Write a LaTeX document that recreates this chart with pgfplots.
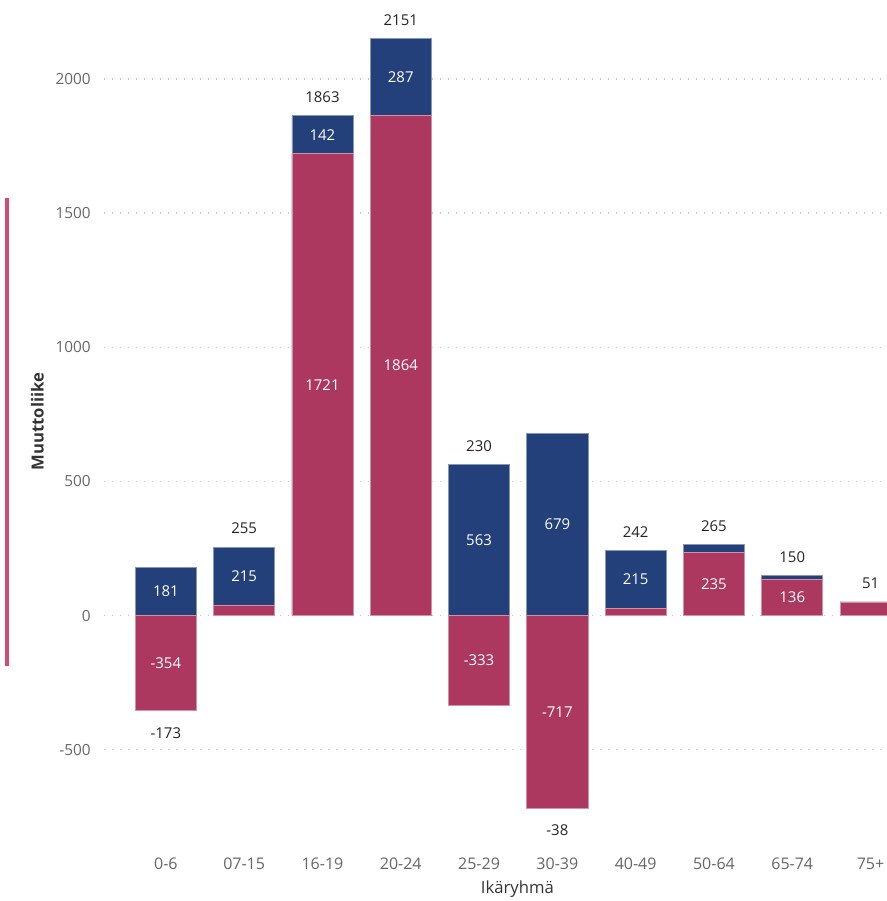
\documentclass[border=0pt]{standalone}
\usepackage{pgfplots}
\pgfplotsset{compat=1.18}
\usepackage{pgfplotstable}
\usepackage{fontspec}
\setmainfont{Open Sans}
\definecolor{cblue}{RGB}{35,64,122}
\definecolor{cred}{RGB}{172,55,95}
\definecolor{cline}{RGB}{209,75,115}
\definecolor{ctick}{RGB}{102,102,102}
\definecolor{ctitle}{RGB}{51,51,51}
\definecolor{clab}{RGB}{37,36,35}

% x red blue top (top = upper end of the blue segment)
\pgfplotstableread{
x red blue top
0 -354 181 181
1 40 215 255
2 1721 142 1863
3 1864 287 2151
4 -333 563 563
5 -717 679 679
6 27 215 242
7 235 30 265
8 136 14 150
9 51 0 51
}\bars

\pgfplotstableread{
x y lab
0 90.5 181
1 147.5 215
2 1792 142
3 2007.5 287
4 281.5 563
5 339.5 679
6 134.5 215
}\bluelab

\pgfplotstableread{
x y lab
0 -177 -354
2 860.5 1721
3 932 1864
4 -166.5 -333
5 -358.5 -717
7 117.5 235
8 68 136
}\redlab

\pgfplotstableread{
x y lab
1 255 255
2 1863 1863
3 2151 2151
4 563 230
6 242 242
7 265 265
8 150 150
9 51 51
}\toplab

\pgfplotstableread{
x y lab
0 -354 -173
5 -717 -38
}\botlab

\begin{document}
\begin{tikzpicture}
\begin{axis}[
  scale only axis, width=587.25pt, height=632.25pt,
  xmin=-0.79, xmax=9.21, ymin=-847, ymax=2294,
  axis line style={draw=none},
  major tick length=0pt,
  tick style={draw=none},
  ytick={-500,0,500,1000,1500,2000},
  ymajorgrids,
  grid style={dash pattern=on 0.9pt off 5.1pt, line width=0.9pt, color=black!22},
  xtick={0,...,9},
  xticklabels={0-6,07-15,16-19,20-24,25-29,30-39,40-49,50-64,65-74,75+},
  xticklabel style={anchor=center, yshift=-15.6pt, font=\fontsize{12}{14}\selectfont, text=ctick},
  yticklabel style={anchor=east, xshift=-6.5pt, font=\fontsize{11.5}{14}\selectfont, text=ctick},
  /pgf/number format/assume math mode=true,
  /pgf/number format/1000 sep={},
  xlabel={Ikäryhmä},
  every axis x label/.style={at={(rel axis cs:0.528,0)}, anchor=center, yshift=-35pt, font=\fontsize{12.5}{15}\selectfont, text=ctitle},
  ylabel={Muuttoliike},
  every axis y label/.style={at={(rel axis cs:0,0.5)}, anchor=center, xshift=-50pt, rotate=90, font=\bfseries\fontsize{12.5}{15}\selectfont, text=ctitle},
  clip=true,
]
\addplot[ybar, bar width=0.78, bar shift=0pt, fill=cblue, draw=cblue!55!white, line width=0.5pt] table[x=x,y=top]{\bars};
\addplot[ybar, bar width=0.78, bar shift=0pt, fill=cred, draw=cred!55!white, line width=0.5pt] table[x=x,y=red]{\bars};

\addplot[draw=none, mark=none, nodes near coords, point meta=explicit symbolic,
  every node near coord/.append style={anchor=center, text=white, font=\fontsize{11.2}{13}\selectfont}]
  table[x=x,y=y,meta=lab]{\bluelab};
\addplot[draw=none, mark=none, nodes near coords, point meta=explicit symbolic,
  every node near coord/.append style={anchor=center, text=white, font=\fontsize{11.2}{13}\selectfont}]
  table[x=x,y=y,meta=lab]{\redlab};
\addplot[draw=none, mark=none, nodes near coords, point meta=explicit symbolic,
  every node near coord/.append style={anchor=center, yshift=14pt, text=clab, font=\fontsize{11.2}{13}\selectfont}]
  table[x=x,y=y,meta=lab]{\toplab};
\addplot[draw=none, mark=none, nodes near coords, point meta=explicit symbolic,
  every node near coord/.append style={anchor=center, yshift=-16.5pt, text=clab, font=\fontsize{11.2}{13}\selectfont}]
  table[x=x,y=y,meta=lab]{\botlab};

\coordinate (SW) at (rel axis cs:0,0);
\coordinate (NE) at (rel axis cs:1,1);
\end{axis}
\draw[cline, line width=3pt] ([xshift=-72.75pt, yshift=132.75pt]SW) -- ([xshift=-72.75pt, yshift=483.75pt]SW);
\pgfresetboundingbox
\path[use as bounding box] ([xshift=-78pt, yshift=-43.5pt]SW) rectangle (NE);
\end{tikzpicture}
\end{document}
